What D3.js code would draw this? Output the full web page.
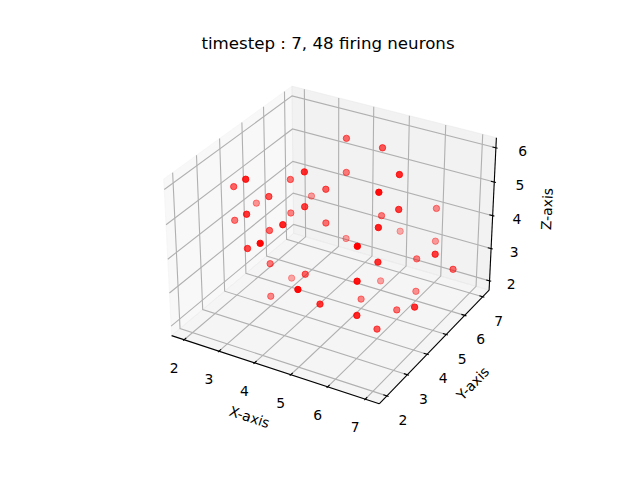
<!DOCTYPE html>
<html>
<head>
<meta charset="utf-8">
<script src="https://cdn.jsdelivr.net/npm/d3@7"></script>
<style>
  html, body { margin: 0; background: #fff; }
  text { font-family: "DejaVu Sans", sans-serif; fill: #000; }
</style>
</head>
<body>
<svg id="chart" width="640" height="480"></svg>
<script>
// firing neurons at this timestep
const xValues = [4,3,2,4,3,3,2,4,3,4,4,3,3,2,5,6,6,6,6,5,4,4,3,4,4,3,3,4,3,5,3,5,6,5,6,6,7,6,6,7,6,5,6,5,7,6,6,6];
const yValues = [6,3,4,4,5,4,5,5,6,6,4,5,3,4,6,5,4,5,7,6,5,3,4,6,2,3,4,4,5,2,4,3,4,7,7,3,5,6,4,6,3,6,6,5,4,5,3,4];
const zValues = [6,6,5,6,5,5,4,5,4,5,5,4,5,4,6,6,6,5,4,4,4,5,4,3,5,4,3,3,2,4,2,3,5,3,3,5,4,3,4,3,4,2,2,2,3,2,3,2];

const xTicks = [2, 3, 4, 5, 6, 7];
const yTicks = [2, 3, 4, 5, 6, 7];
const zTicks = [2, 3, 4, 5, 6];

const titleText = "timestep : 7, 48 firing neurons";

// view settings, same idea as a matplotlib 3d axes
const elev = 30 * Math.PI / 180;
const azim = -60 * Math.PI / 180;
const dist = 10;

const boxScale = 1.8294640721620434 * 25 / 24 / Math.hypot(4, 4, 3);
const box = [4 * boxScale, 4 * boxScale, 3 * boxScale];

const xScale = d3.scaleLinear().domain([1.75, 7.25]).range([0, box[0]]);
const yScale = d3.scaleLinear().domain([1.75, 7.25]).range([0, box[1]]);
const zScale = d3.scaleLinear().domain([1.8, 6.2]).range([0, box[2]]);

const screenX = d3.scaleLinear().domain([-1, 1]).range([333.4 - 1917, 333.4 + 1917]);
const screenY = d3.scaleLinear().domain([-1, 1]).range([237 + 1917, 237 - 1917]);

// pane edges sit a bit outside the axis limits
const xEdge = [1.635, 7.365];
const yEdge = [1.635, 7.365];
const zEdge = [1.708, 6.292];

function cross(a, b) {
  return [a[1] * b[2] - a[2] * b[1], a[2] * b[0] - a[0] * b[2], a[0] * b[1] - a[1] * b[0]];
}
function dot(a, b) {
  return a[0] * b[0] + a[1] * b[1] + a[2] * b[2];
}

const w = [Math.cos(elev) * Math.cos(azim), Math.cos(elev) * Math.sin(azim), Math.sin(elev)];
const eye = box.map((b, i) => b / 2 + dist * w[i]);
let u = cross([0, 0, 1], w);
const uLen = Math.hypot(u[0], u[1], u[2]);
u = u.map(d => d / uLen);
const v = cross(w, u);

// returns [pixel x, pixel y, depth]
function project(x, y, z) {
  const p = [xScale(x) - eye[0], yScale(y) - eye[1], zScale(z) - eye[2]];
  const depth = -dot(w, p);
  return [screenX(dot(u, p) / depth), screenY(dot(v, p) / depth), depth];
}

const svg = d3.select("#chart");
const line = d3.line().x(d => d[0]).y(d => d[1]);

function drawPath(corners, closed, fill, stroke, width) {
  svg.append("path")
    .attr("d", line(corners.map(c => project(c[0], c[1], c[2]))) + (closed ? "Z" : ""))
    .attr("fill", fill)
    .attr("stroke", stroke)
    .attr("stroke-width", width);
}

// Panes
drawPath([[xEdge[0], yEdge[0], zEdge[0]], [xEdge[0], yEdge[1], zEdge[0]], [xEdge[0], yEdge[1], zEdge[1]], [xEdge[0], yEdge[0], zEdge[1]]],
  true, "rgba(242,242,242,0.5)", "rgba(242,242,242,0.5)", 1);
drawPath([[xEdge[0], yEdge[1], zEdge[0]], [xEdge[1], yEdge[1], zEdge[0]], [xEdge[1], yEdge[1], zEdge[1]], [xEdge[0], yEdge[1], zEdge[1]]],
  true, "rgba(230,230,230,0.5)", "rgba(230,230,230,0.5)", 1);
drawPath([[xEdge[0], yEdge[0], zEdge[0]], [xEdge[1], yEdge[0], zEdge[0]], [xEdge[1], yEdge[1], zEdge[0]], [xEdge[0], yEdge[1], zEdge[0]]],
  true, "rgba(236,236,236,0.5)", "rgba(236,236,236,0.5)", 1);

// Grid lines
const gridColour = "#b0b0b0";
const gridWidth = 1.1;
xTicks.forEach(t => drawPath([[t, yEdge[0], zEdge[0]], [t, yEdge[1], zEdge[0]], [t, yEdge[1], zEdge[1]]], false, "none", gridColour, gridWidth));
yTicks.forEach(t => drawPath([[xEdge[1], t, zEdge[0]], [xEdge[0], t, zEdge[0]], [xEdge[0], t, zEdge[1]]], false, "none", gridColour, gridWidth));
zTicks.forEach(t => drawPath([[xEdge[0], yEdge[0], t], [xEdge[0], yEdge[1], t], [xEdge[1], yEdge[1], t]], false, "none", gridColour, gridWidth));

// Axis lines
drawPath([[xEdge[0], yEdge[0], zEdge[0]], [xEdge[1], yEdge[0], zEdge[0]]], false, "none", "#000", 1.1);
drawPath([[xEdge[1], yEdge[0], zEdge[0]], [xEdge[1], yEdge[1], zEdge[0]]], false, "none", "#000", 1.1);
drawPath([[xEdge[1], yEdge[1], zEdge[0]], [xEdge[1], yEdge[1], zEdge[1]]], false, "none", "#000", 1.1);

// Tick marks
const xDelta = 5.5 / 12;
const yDelta = 5.5 / 12;
xTicks.forEach(t => drawPath([[t, yEdge[0] - 0.1 * yDelta, zEdge[0]], [t, yEdge[0] + 0.2 * yDelta, zEdge[0]]], false, "none", "#000", 1.1));
yTicks.forEach(t => drawPath([[xEdge[1] + 0.1 * xDelta, t, zEdge[0]], [xEdge[1] - 0.2 * xDelta, t, zEdge[0]]], false, "none", "#000", 1.1));
zTicks.forEach(t => drawPath([[xEdge[1] + 0.1 * xDelta, yEdge[1], t], [xEdge[1] - 0.2 * xDelta, yEdge[1], t]], false, "none", "#000", 1.1));

// Tick labels, pushed off the axis by a few pixels
function tickLabel(pos, dx, dy, label) {
  svg.append("text")
    .attr("x", pos[0] + dx)
    .attr("y", pos[1] + dy)
    .attr("text-anchor", "middle")
    .attr("dominant-baseline", "central")
    .attr("font-size", 13.9)
    .text(label);
}
xTicks.forEach(t => tickLabel(project(t, yEdge[0], zEdge[0]), -10, 28, t));
yTicks.forEach(t => tickLabel(project(xEdge[1], t, zEdge[0]), 16, 24, t));
zTicks.forEach(t => tickLabel(project(xEdge[1], yEdge[1], t), 21.7 + (t - 2) * 1.3, 3, t));

// Axis labels
function axisLabel(x, y, angle, label) {
  svg.append("text")
    .attr("transform", `translate(${x},${y}) rotate(${angle})`)
    .attr("text-anchor", "middle")
    .attr("dominant-baseline", "central")
    .attr("font-size", 13.9)
    .text(label);
}
axisLabel(249.5, 417, 18.2, "X-axis");
axisLabel(472.7, 383.3, -45.8, "Y-axis");
axisLabel(547, 209, -87.5, "Z-axis");

// Title
svg.append("text")
  .attr("x", 328)
  .attr("y", 49)
  .attr("text-anchor", "middle")
  .attr("font-size", 16.67)
  .text(titleText);

// Points, far ones first, nearer ones stronger (depth shading)
const points = xValues.map((x, i) => project(x, yValues[i], zValues[i]));
const depthExtent = d3.extent(points, d => d[2]);
const alpha = d3.scaleLinear().domain(depthExtent).range([1, 0.3]);

svg.append("g")
  .selectAll("circle")
  .data(points.slice().sort((a, b) => b[2] - a[2]))
  .join("circle")
  .attr("cx", d => d[0])
  .attr("cy", d => d[1])
  .attr("r", 3.2)
  .attr("fill", "red")
  .attr("stroke", "red")
  .attr("stroke-width", 1)
  .attr("fill-opacity", d => alpha(d[2]))
  .attr("stroke-opacity", d => alpha(d[2]));
</script>
</body>
</html>
